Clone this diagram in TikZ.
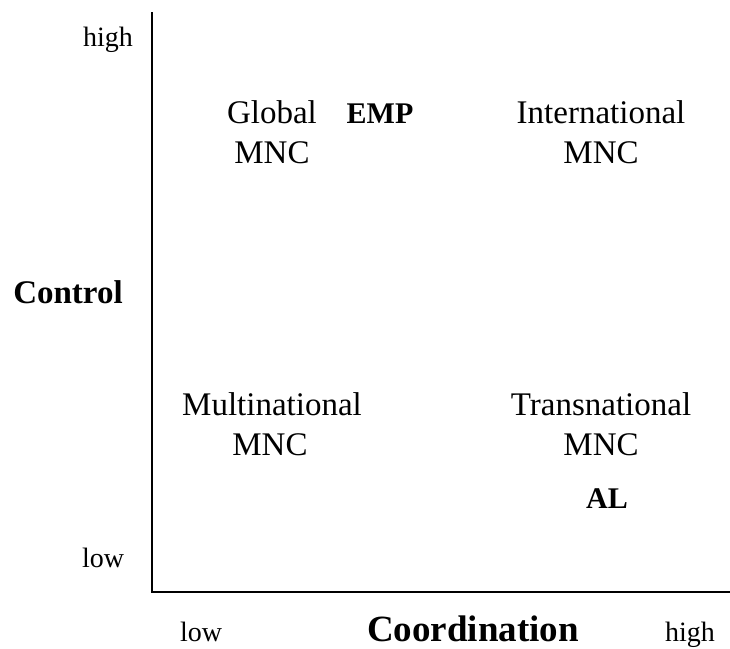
\documentclass[tikz,border=0pt]{standalone}
\usepackage{fontspec}
\setmainfont{Liberation Serif}
\begin{document}
\begin{tikzpicture}[x=1pt,y=-1pt,
  axis/.style={line width=2pt,black},
  cell/.style={anchor=base,inner sep=0pt,font=\fontsize{33}{40}\selectfont},
  tag/.style={anchor=base,inner sep=0pt,font=\fontsize{30}{36}\selectfont\bfseries},
  tick/.style={anchor=base,inner sep=0pt,font=\fontsize{28}{34}\selectfont},
  axlabel/.style={anchor=base,inner sep=0pt,font=\fontsize{33}{40}\selectfont\bfseries}]
\useasboundingbox (0,0) rectangle (730,648);
% axes
\coordinate (top) at (152,12);
\coordinate (origin) at (152,592);
\coordinate (right) at (730,592);
\draw[axis] (top) -- (origin) -- (right);
% vertical axis
\node[tick] (yhigh) at (108,46) {high};
\node[tick] (ylow) at (103,567) {low};
\node[axlabel] (ylab) at (68,303) {Control};
% horizontal axis
\node[tick] (xlow) at (201,641) {low};
\node[axlabel,font=\fontsize{37}{44}\selectfont\bfseries] (xlab) at (473,641) {Coordination};
\node[tick] (xhigh) at (690,641) {high};
% quadrants
\node[cell] (glob1) at (272,123) {Global};
\node[cell] (glob2) at (272,163) {MNC};
\node[tag] (emp) at (380,123) {EMP};
\node[cell] (intl1) at (601,123) {International};
\node[cell] (intl2) at (601,163) {MNC};
\node[cell] (mult1) at (272,415) {Multinational};
\node[cell] (mult2) at (270,455) {MNC};
\node[cell] (trans1) at (601,415) {Transnational};
\node[cell] (trans2) at (601,455) {MNC};
\node[tag] (al) at (607,508) {AL};
\end{tikzpicture}
\end{document}
